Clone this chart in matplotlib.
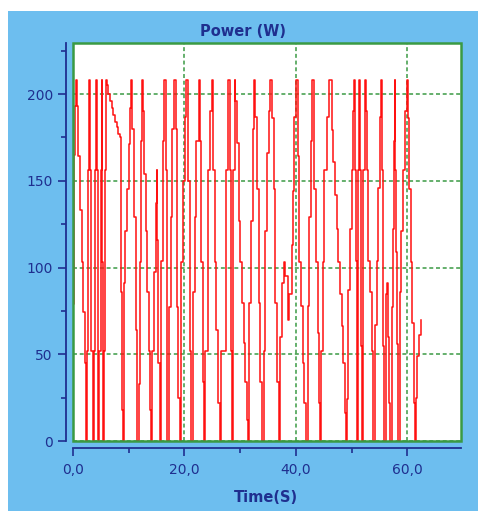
import matplotlib
matplotlib.use("Agg")
import matplotlib.pyplot as plt
from matplotlib.patches import Rectangle
from matplotlib.ticker import MultipleLocator, FuncFormatter

# power trace (s, W)
time = [
    0.00, 0.05, 0.10, 0.36, 0.59, 0.77, 0.95, 1.26, 1.56, 1.85, 2.15, 2.33,
    2.57, 2.74, 2.87, 3.05, 3.28, 3.53,
    3.77, 3.95, 4.07, 4.25, 4.43, 4.54,
    4.72, 4.97, 5.15, 5.26, 5.44,
    5.61, 5.74, 5.92, 6.04, 6.33, 6.64, 6.94, 7.23, 7.53, 7.84, 8.13, 8.43,
    8.56, 8.79, 8.91,
    9.06, 9.33, 9.69, 10.05, 10.28, 10.46,
    10.64, 10.94, 11.25, 11.43, 11.53,
    11.84, 12.02, 12.25, 12.43,
    12.61, 12.74, 13.04, 13.33, 13.63, 13.81, 13.94,
    14.22, 14.53, 14.83, 15.01,
    15.12, 15.30, 15.61,
    15.84, 16.14, 16.32,
    16.63, 16.81, 16.91,
    17.22, 17.52, 17.81, 18.12,
    18.42, 18.71, 18.89, 19.13,
    19.43, 19.73, 20.04, 20.32,
    20.63, 20.93, 21.11, 21.22,
    21.52, 21.83, 22.12, 22.55,
    22.73, 23.01, 23.32, 23.44,
    23.62, 24.22, 24.63, 24.93,
    25.11, 25.42, 25.70, 26.01, 26.31,
    26.60, 27.50, 27.80,
    28.11, 28.34, 28.47,
    28.70, 29.00,
    29.11, 29.42, 29.72, 30.01, 30.31, 30.62, 30.91, 31.21, 31.39,
    31.62, 31.98, 32.23, 32.52,
    32.70, 33.00, 33.31, 33.60, 33.90,
    34.21, 34.49, 34.80, 35.21, 35.39,
    35.70, 36.00, 36.29, 36.59, 36.90, 37.00,
    37.18, 37.49, 37.79,
    38.03, 38.51, 38.80, 39.23, 39.46, 39.69, 40.00,
    40.30, 40.59, 40.90, 41.20, 41.49, 41.79,
    42.10, 42.39, 42.69, 42.87,
    43.29, 43.59, 43.89, 44.18, 44.30,
    44.48, 44.79, 45.08, 45.51, 45.87,
    46.40, 46.69, 47.00, 47.30, 47.59, 47.89, 48.20, 48.48, 48.79, 48.91,
    49.09, 49.38, 49.69, 49.99, 50.28, 50.46,
    50.58, 50.71, 50.89, 50.94,
    51.07, 51.17, 51.30,
    51.48, 51.66, 51.84,
    51.96, 52.07, 52.32,
    52.50, 52.68, 52.97, 53.27, 53.58, 53.76, 53.87,
    54.17, 54.47, 54.76, 55.07, 55.30,
    55.48, 55.66, 55.84,
    56.14, 56.32,
    56.50, 56.68, 56.86,
    57.17, 57.35, 57.52, 57.70,
    57.81, 57.99, 58.17, 58.30, 58.35,
    58.66, 58.89, 59.25, 59.50, 59.86,
    60.09, 60.27, 60.57, 60.86, 61.17, 61.35,
    61.52, 61.76, 62.06, 62.37,
]
power = [
    35, 79, 165, 193, 208, 193, 164, 133, 103, 74.5, 45, 0,
    52, 156, 208, 156, 52, 0,
    52, 156, 208, 156, 52, 0,
    52, 156, 208, 103, 0,
    52, 156, 208, 205, 200, 196, 192, 188, 184, 181, 177, 175,
    86, 18, 0,
    91, 121, 145, 171, 192, 208,
    180, 129, 64, 26, 0,
    33, 103, 173, 208,
    190, 154, 121, 86, 52, 18, 0,
    52, 97.5, 137, 156,
    116, 45, 0,
    104, 173, 208,
    156, 52, 0,
    77, 129, 180, 208,
    180, 77, 25, 0,
    103, 150, 187, 208,
    150, 52, 18, 0,
    86, 129, 173, 208,
    173, 103, 34, 0,
    52, 156, 190, 208,
    156, 103, 64, 22, 0,
    52, 156, 208,
    156, 52, 0,
    156, 208,
    196, 172, 127, 103, 79.5, 56.5, 34, 12, 0,
    79.5, 127, 180, 208,
    187, 145, 79.5, 34, 0,
    52, 121, 166, 190, 208,
    186, 145, 79.5, 34, 12, 0,
    60, 91, 103,
    95, 70, 85, 113, 144, 187, 208,
    164, 103, 78, 45, 22, 0,
    78, 129, 173, 208,
    145, 103, 62, 22, 0,
    52, 103, 156, 187, 208,
    179, 161, 142, 122, 103, 85, 66, 45, 16, 0,
    24, 87, 122, 156, 190, 208,
    156, 104, 55, 0,
    55, 156, 208,
    156, 55, 0,
    55, 156, 208,
    190, 156, 104, 86, 52, 18, 0,
    67, 104, 146, 187, 208,
    156, 55, 0,
    85, 91,
    60, 22, 0,
    77, 122, 173, 208,
    156, 109, 56, 24, 0,
    86, 121, 156, 190, 208,
    186, 145, 103, 68, 22, 0,
    25, 49, 61, 70,
]

x_ticks = [0, 20, 40, 60]
y_ticks = [0, 50, 100, 150, 200]

navy = "#1f2f8f"
green = "#3a9a44"
panel = "#6dbeef"

fig = plt.figure(figsize=(4.78, 5.11), dpi=100, facecolor="white")
fig.patches.append(Rectangle((8 / 478, 0), 1, 1 - 11 / 511, transform=fig.transFigure,
                             facecolor=panel, edgecolor="none", zorder=-10))

ax = fig.add_axes([73 / 478, 70 / 511, 388 / 478, 398 / 511])
ax.set_facecolor("white")

# sampled values are held until the next sample
ax.plot(time, power, color="#ff1010", lw=1.1, drawstyle="steps-post", zorder=3)

ax.set_xlim(0, 69.6)
ax.set_ylim(0, 229.4)

ax.set_xticks(x_ticks)
ax.set_yticks(y_ticks)
ax.xaxis.set_minor_locator(MultipleLocator(10))
ax.yaxis.set_minor_locator(MultipleLocator(25))
ax.xaxis.set_major_formatter(FuncFormatter(lambda v, p: f"{v:.1f}".replace(".", ",")))

ax.grid(True, which="major", color=green, linestyle=(0, (2.6, 1.8)), lw=1.1, zorder=1)

# offset navy axes, green frame round the plot area
for side in ["top", "right"]:
    ax.spines[side].set_visible(False)
for side in ["left", "bottom"]:
    ax.spines[side].set_position(("outward", 5))
    ax.spines[side].set_color(navy)
    ax.spines[side].set_linewidth(1.3)
ax.add_patch(Rectangle((0, 0), 1, 1, transform=ax.transAxes, fill=False,
                       edgecolor=green, lw=1.8, clip_on=False, zorder=4))

ax.tick_params(which="major", direction="out", length=6, width=1.2, color=navy,
               labelcolor=navy, labelsize=10)
ax.tick_params(which="minor", direction="out", length=3.5, width=1.2, color=navy)
ax.tick_params(axis="x", pad=5)

fig.text(243 / 478, 1 - 31 / 511, "Power (W)", ha="center", va="center",
         color=navy, fontsize=10.5, fontweight="bold")
fig.text(266 / 478, 1 - 497 / 511, "Time(S)", ha="center", va="center",
         color=navy, fontsize=10.5, fontweight="bold")

fig.savefig("out.png", dpi=100, facecolor=fig.get_facecolor())
